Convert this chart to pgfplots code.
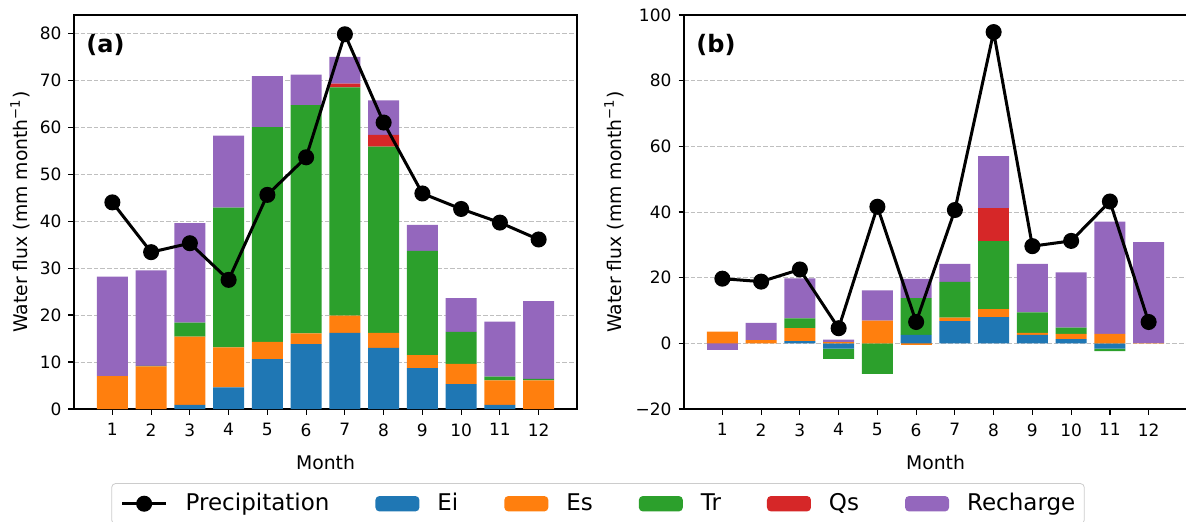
\documentclass[border=0pt]{standalone}
\usepackage{fontspec}
\setmainfont{DejaVu Sans}
\usepackage{pgfplots}
\pgfplotsset{compat=1.18}
\usepackage{pgfplotstable}

\definecolor{cEi}{HTML}{1F77B4}
\definecolor{cEs}{HTML}{FF7F0E}
\definecolor{cTr}{HTML}{2CA02C}
\definecolor{cQs}{HTML}{D62728}
\definecolor{cRe}{HTML}{9467BD}

% Panel (a)
\pgfplotstableread{
m Ei Es Tr Qs Re P
1 0 7.0 0 0 21.2 44.0
2 0 9.1 0.1 0 20.3 33.4
3 0.9 14.5 3.0 0 21.2 35.3
4 4.6 8.5 29.8 0 15.3 27.5
5 10.6 3.7 45.7 0 10.9 45.6
6 13.8 2.3 48.6 0 6.5 53.6
7 16.2 3.7 48.6 0.8 5.7 79.8
8 13.0 3.2 39.7 2.5 7.3 61.0
9 8.7 2.8 22.2 0 5.5 45.9
10 5.3 4.3 6.8 0 7.2 42.6
11 0.9 5.2 0.8 0 11.7 39.7
12 0 6.1 0.3 0 16.6 36.1
}\dataA

% Panel (b): positive parts and negative parts
\pgfplotstableread{
m Ei Es Tr Qs Re nEi nEs nTr nQs nRe P
1 0 3.6 0 0 0 0 0 0 0 -2.0 19.7
2 0 1.0 0 0 5.2 0 0 0 0 0 18.8
3 0.7 3.9 3.0 0 12.2 0 0 0 0 0 22.5
4 0 0.4 0 0 0.7 -1.6 0 -3.1 0 0 4.6
5 0 6.9 0 0 9.2 0 0 -9.3 0 0 41.6
6 2.6 0 11.2 0 5.8 0 -0.5 0 0 0 6.5
7 6.8 1.0 10.9 0 5.5 0 0 0 0 0 40.6
8 8.0 2.4 20.7 10.0 15.9 0 0 0 0 0 94.8
9 2.6 0.6 6.2 0 14.8 0 0 0 0 0 29.6
10 1.3 1.6 1.9 0 16.8 0 0 0 0 0 31.2
11 0 2.9 0 0 34.2 -1.6 0 -0.8 0 0 43.2
12 0 0.1 0 0 30.7 0 0 0 0 0 6.5
}\dataB

\pgfplotsset{
  common/.style={
    anchor=north west, scale only axis, width=251.5pt, height=197pt,
    xmin=0.01, xmax=12.99,
    xtick={1,...,12},
    tick align=outside, xtick pos=left, ytick pos=left,
    major tick length=2.75pt,
    axis line style={line width=0.6pt},
    major tick style={black, line width=0.6pt},
    /pgf/number format/assume math mode=true,
    tick label style={font=\fontsize{8.5}{10}\selectfont},
    xticklabel style={yshift=-1pt},
    label style={font=\fontsize{9.4}{11}\selectfont},
    xlabel={Month},
    xlabel style={at={(axis description cs:0.5,-0.137)}, anchor=center},
    ylabel={Water flux (mm month\textsuperscript{−1})},
  },
  bars/.style={
    common, ybar stacked, bar width=0.8,
    ymajorgrids,
    grid style={black!25, line width=0.5pt, dash pattern=on 2.3pt off 1pt},
  },
  lineaxis/.style={
    anchor=north west, scale only axis, width=251.5pt, height=197pt,
    xmin=0.01, xmax=12.99, hide axis,
  },
  barleg/.style={legend image code/.code={\fill[##1] (0pt,-3.85pt) rectangle (22pt,3.85pt);}},
  precip/.style={black, line width=1.5pt, mark=*, mark size=3.25pt, mark options={solid, fill=black}},
}

\begin{document}
\begin{tikzpicture}
\useasboundingbox (0,0) rectangle (593pt,-260.5pt);

% ---------- Panel (a) ----------
\begin{axis}[bars, at={(37pt,-7.5pt)},
  ymin=0, ymax=83.9, ytick={0,10,...,80},
  ylabel style={at={(axis description cs:-0.107,0.5)}, anchor=center},
  legend columns=6,
  legend style={at={(axis description cs:1.0417,-0.188)}, anchor=north,
    font=\fontsize{11.5}{13.5}\selectfont, draw=black!20, rounded corners=2pt,
    inner xsep=4.5pt, inner ysep=5pt,
    nodes={inner sep=0pt, anchor=west},
    /tikz/every odd column/.append style={column sep=9pt},
    /tikz/every even column/.append style={column sep=23pt}},
]
\addlegendimage{precip, legend image code/.code={\draw[##1] (0pt,0pt) -- (22pt,0pt); \fill[black] (11pt,0pt) circle (3.25pt);}}
\addlegendentry{Precipitation}
\addplot[barleg, fill=cEi, draw=none] table[x=m,y=Ei]{\dataA};
\addlegendentry{Ei}
\addplot[barleg, fill=cEs, draw=none] table[x=m,y=Es]{\dataA};
\addlegendentry{Es}
\addplot[barleg, fill=cTr, draw=none] table[x=m,y=Tr]{\dataA};
\addlegendentry{Tr}
\addplot[barleg, fill=cQs, draw=none] table[x=m,y=Qs]{\dataA};
\addlegendentry{Qs}
\addplot[barleg, fill=cRe, draw=none] table[x=m,y=Re]{\dataA};
\addlegendentry{Recharge}
\node[anchor=west, inner sep=0pt, font=\bfseries\fontsize{12}{14}\selectfont] at (rel axis cs:0.024,0.924) {(a)};
\end{axis}
\begin{axis}[lineaxis, at={(37pt,-7.5pt)}, ymin=0, ymax=83.9]
\addplot[precip] table[x=m,y=P]{\dataA};
\end{axis}

% ---------- Panel (b) ----------
\begin{axis}[bars, at={(342pt,-7.5pt)},
  ymin=-20, ymax=100, ytick={-20,0,20,40,60,80,100},
  yticklabels={−20,0,20,40,60,80,100},
  ylabel style={at={(axis description cs:-0.139,0.5)}, anchor=center},
]
\addplot[fill=cEi, draw=none] table[x=m,y=Ei]{\dataB};
\addplot[fill=cEs, draw=none] table[x=m,y=Es]{\dataB};
\addplot[fill=cTr, draw=none] table[x=m,y=Tr]{\dataB};
\addplot[fill=cQs, draw=none] table[x=m,y=Qs]{\dataB};
\addplot[fill=cRe, draw=none] table[x=m,y=Re]{\dataB};
\addplot[fill=cEi, draw=none] table[x=m,y=nEi]{\dataB};
\addplot[fill=cEs, draw=none] table[x=m,y=nEs]{\dataB};
\addplot[fill=cTr, draw=none] table[x=m,y=nTr]{\dataB};
\addplot[fill=cQs, draw=none] table[x=m,y=nQs]{\dataB};
\addplot[fill=cRe, draw=none] table[x=m,y=nRe]{\dataB};
\node[anchor=west, inner sep=0pt, font=\bfseries\fontsize{12}{14}\selectfont] at (rel axis cs:0.024,0.924) {(b)};
\end{axis}
\begin{axis}[lineaxis, at={(342pt,-7.5pt)}, ymin=-20, ymax=100]
\addplot[precip] table[x=m,y=P]{\dataB};
\end{axis}
\end{tikzpicture}
\end{document}
